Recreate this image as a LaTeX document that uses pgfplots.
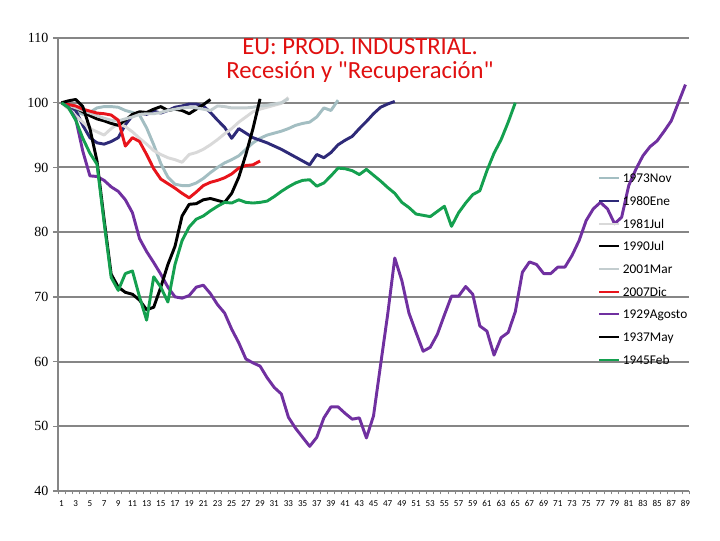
\documentclass[border=0pt]{standalone}
\usepackage{fontspec}
\setmainfont{Carlito}
\newfontfamily\tickserif{Liberation Serif}
\newfontfamily\titlefont{Carlito}
\usepackage{pgfplots}
\pgfplotsset{compat=1.18}
\definecolor{c73}{HTML}{A3BEC2}
\definecolor{c80}{HTML}{2E2A78}
\definecolor{c81}{HTML}{D9D9D9}
\definecolor{c01}{HTML}{C3CDCF}
\definecolor{c07}{HTML}{E8141B}
\definecolor{c29}{HTML}{7030A0}
\definecolor{c45}{HTML}{14A04F}
\definecolor{gridgray}{HTML}{868686}
\definecolor{titlered}{HTML}{E01010}
\begin{document}
\begin{tikzpicture}
\useasboundingbox (0,0) rectangle (540pt,405pt);
\begin{axis}[
  at={(43.5pt,36.75pt)}, anchor=south west,
  scale only axis, width=473.25pt, height=339.75pt,
  xmin=0.5, xmax=89.5, ymin=40, ymax=110,
  axis x line*=bottom, axis y line*=left,
  axis line style={draw=gridgray, line width=1.5pt, -},
  xtick={1,3,...,89},
  minor xtick={0.5,1.5,...,89.5},
  major x tick style={draw=none},
  minor x tick style={draw=gridgray, line width=0.6pt},
  minor tick length=2.5pt,
  ytick={40,50,...,110},
  major tick length=3.75pt,
  tick align=outside,
  ymajorgrids, grid style={draw=gridgray, line width=1.5pt},
  y tick style={draw=gridgray, line width=1pt},
  xticklabel style={font=\fontsize{6.8}{7}\selectfont},
  yticklabel style={font=\tickserif\fontsize{10.5}{12}\selectfont},
  /pgf/number format/assume math mode=true,
  legend style={at={(0.8558,0.7013)}, anchor=north west, draw=none, fill=none,
    font=\fontsize{10}{12}\selectfont, inner sep=0pt, row sep=10pt,
    nodes={inner sep=0pt, text height=7pt, text depth=0pt},
    /tikz/every odd column/.append style={column sep=2pt}},
  legend cell align=left,
  legend image code/.code={\draw[#1, line width=1.5pt] (0pt,0pt) -- (15pt,0pt);},
  every axis plot/.append style={line width=2.2pt, mark=none, line join=round},
]
% 1973Nov
\addplot[c73] coordinates {(1,100)(2,99.5)(3,98.8)(4,98.2)(5,98.5)(6,99.2)(7,99.4)(8,99.4)(9,99.3)(10,98.8)(11,98.5)(12,98.1)(13,96.1)(14,93.5)(15,90.6)(16,88.5)(17,87.4)(18,87.2)(19,87.2)(20,87.6)(21,88.3)(22,89.2)(23,90.0)(24,90.7)(25,91.2)(26,91.8)(27,92.8)(28,93.8)(29,94.5)(30,95.0)(31,95.3)(32,95.6)(33,96.0)(34,96.5)(35,96.8)(36,97.0)(37,97.8)(38,99.2)(39,98.8)(40,100.4)};
\addlegendentry{1973Nov}
% 1980Ene
\addplot[c80] coordinates {(1,100)(2,99.7)(3,98.8)(4,96.5)(5,94.6)(6,93.8)(7,93.6)(8,94.0)(9,94.6)(10,96.6)(11,98.0)(12,98.4)(13,98.2)(14,98.7)(15,98.4)(16,98.8)(17,99.3)(18,99.5)(19,99.8)(20,99.8)(21,99.5)(22,98.5)(23,97.3)(24,96.2)(25,94.5)(26,96.0)(27,95.3)(28,94.6)(29,94.2)(30,93.8)(31,93.3)(32,92.8)(33,92.2)(34,91.6)(35,91.0)(36,90.4)(37,92.0)(38,91.5)(39,92.3)(40,93.5)(41,94.2)(42,94.8)(43,96.0)(44,97.1)(45,98.3)(46,99.3)(47,99.8)(48,100.2)};
\addlegendentry{1980Ene}
% 1981Jul
\addplot[c81] coordinates {(1,100)(2,99.0)(3,98.0)(4,97.0)(5,96.0)(6,95.5)(7,95.0)(8,96.0)(9,96.8)(10,96.3)(11,95.5)(12,94.5)(13,93.6)(14,92.6)(15,92.0)(16,91.5)(17,91.2)(18,90.8)(19,92.0)(20,92.3)(21,92.8)(22,93.5)(23,94.3)(24,95.2)(25,96.0)(26,97.0)(27,97.8)(28,98.6)(29,99.0)(30,99.3)(31,99.6)(32,99.9)(33,100.8)};
\addlegendentry{1981Jul}
% 1990Jul
\addplot[black] coordinates {(1,100)(2,99.6)(3,99.2)(4,98.6)(5,98.0)(6,97.5)(7,97.2)(8,96.8)(9,96.5)(10,97.3)(11,98.2)(12,98.6)(13,98.5)(14,99.0)(15,99.4)(16,98.8)(17,99.0)(18,98.8)(19,98.3)(20,99.0)(21,99.7)(22,100.5)};
\addlegendentry{1990Jul}
% 2001Mar
\addplot[c01] coordinates {(1,100)(2,99.6)(3,99.2)(4,98.8)(5,98.4)(6,98.0)(7,97.6)(8,97.3)(9,97.2)(10,97.5)(11,97.8)(12,98.2)(13,98.3)(14,98.3)(15,98.5)(16,98.8)(17,99.0)(18,99.2)(19,99.3)(20,99.2)(21,99.0)(22,98.8)(23,99.5)(24,99.4)(25,99.2)(26,99.2)(27,99.2)(28,99.3)(29,99.5)(30,99.6)(31,99.8)(32,100.0)(33,100.6)};
\addlegendentry{2001Mar}
% 2007Dic
\addplot[c07] coordinates {(1,100)(2,99.7)(3,99.5)(4,99.0)(5,98.7)(6,98.4)(7,98.3)(8,98.1)(9,97.3)(10,93.3)(11,94.6)(12,94.0)(13,92.0)(14,89.8)(15,88.2)(16,87.5)(17,86.8)(18,86.0)(19,85.3)(20,86.2)(21,87.2)(22,87.7)(23,88.0)(24,88.4)(25,89.0)(26,89.9)(27,90.3)(28,90.4)(29,91.0)};
\addlegendentry{2007Dic}
% 1929Agosto
\addplot[c29] coordinates {(1,100)(2,99.3)(3,97.5)(4,92.5)(5,88.7)(6,88.6)(7,88.0)(8,87.0)(9,86.3)(10,85.0)(11,83.0)(12,79.0)(13,77.0)(14,75.3)(15,73.5)(16,71.5)(17,70.0)(18,69.8)(19,70.2)(20,71.5)(21,71.8)(22,70.5)(23,68.8)(24,67.5)(25,65.0)(26,62.9)(27,60.4)(28,59.8)(29,59.3)(30,57.5)(31,56.0)(32,55.0)(33,51.4)(34,49.7)(35,48.3)(36,46.9)(37,48.3)(38,51.3)(39,53.0)(40,53.0)(41,52.0)(42,51.1)(43,51.3)(44,48.2)(45,51.6)(46,59.5)(47,67.3)(48,76.0)(49,72.5)(50,67.5)(51,64.5)(52,61.6)(53,62.2)(54,64.2)(55,67.2)(56,70.1)(57,70.1)(58,71.6)(59,70.4)(60,65.5)(61,64.7)(62,61.0)(63,63.7)(64,64.5)(65,67.7)(66,73.8)(67,75.4)(68,75.0)(69,73.6)(70,73.6)(71,74.6)(72,74.6)(73,76.4)(74,78.7)(75,81.8)(76,83.6)(77,84.6)(78,83.6)(79,81.3)(80,82.3)(81,87.2)(82,89.7)(83,91.8)(84,93.2)(85,94.1)(86,95.6)(87,97.2)(88,100.0)(89,102.8)};
\addlegendentry{1929Agosto}
% 1937May
\addplot[black] coordinates {(1,100)(2,100.3)(3,100.5)(4,99.4)(5,96.0)(6,91.0)(7,82.0)(8,73.5)(9,71.5)(10,70.7)(11,70.4)(12,69.5)(13,68.0)(14,68.4)(15,71.5)(16,75.0)(17,77.8)(18,82.5)(19,84.3)(20,84.4)(21,85.0)(22,85.2)(23,84.9)(24,84.6)(25,86.0)(26,88.5)(27,92.0)(28,96.0)(29,100.6)};
\addlegendentry{1937May}
% 1945Feb
\addplot[c45] coordinates {(1,100)(2,99.2)(3,97.3)(4,94.5)(5,92.2)(6,90.5)(7,81.5)(8,73.0)(9,71.0)(10,73.6)(11,74.0)(12,70.0)(13,66.4)(14,73.1)(15,71.5)(16,69.2)(17,75.0)(18,78.7)(19,80.8)(20,82.0)(21,82.5)(22,83.3)(23,84.0)(24,84.6)(25,84.5)(26,85.0)(27,84.6)(28,84.5)(29,84.6)(30,84.8)(31,85.5)(32,86.3)(33,87.0)(34,87.6)(35,88.0)(36,88.1)(37,87.1)(38,87.6)(39,88.7)(40,89.9)(41,89.8)(42,89.5)(43,88.9)(44,89.7)(45,88.8)(46,87.9)(47,86.9)(48,86.0)(49,84.6)(50,83.8)(51,82.8)(52,82.6)(53,82.4)(54,83.2)(55,84.0)(56,80.9)(57,83.0)(58,84.5)(59,85.8)(60,86.4)(61,89.5)(62,92.2)(63,94.3)(64,97.0)(65,100.0)};
\addlegendentry{1945Feb}
\node[anchor=base, text=titlered, font=\titlefont\fontsize{18.5}{21}\selectfont] at (rel axis cs:0.4786,0.9646) {EU: PROD. INDUSTRIAL.};
\node[anchor=base, text=titlered, font=\titlefont\fontsize{18.5}{21}\selectfont] at (rel axis cs:0.4786,0.9117) {Recesión y "Recuperación"};
\end{axis}
\end{tikzpicture}
\end{document}
